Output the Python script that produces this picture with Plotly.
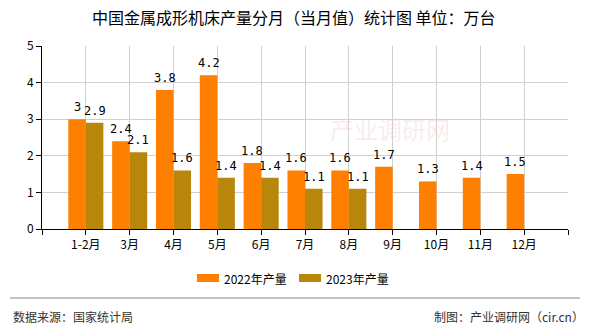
import plotly.graph_objects as go

# Monthly output of metal forming machine tools (10k units)
months = ["1-2月", "3月", "4月", "5月", "6月", "7月", "8月", "9月", "10月", "11月", "12月"]
series_names = ["2022年产量", "2023年产量"]
output_2022 = [3, 2.4, 3.8, 4.2, 1.8, 1.6, 1.6, 1.7, 1.3, 1.4, 1.5]
output_2023 = [2.9, 2.1, 1.6, 1.4, 1.4, 1.1, 1.1, None, None, None, None]
y_ticks = [0, 1, 2, 3, 4, 5]
colors = ["#FF8000", "#B8860B"]

title_text = "中国金属成形机床产量分月（当月值）统计图 单位：万台"
source_text = "数据来源：国家统计局"
credit_text = "制图：产业调研网（cir.cn）"
watermark_text = "产业调研网"

W, H = 590, 330
L, R, T, B = 42, 22, 46, 101
PW, PH = W - L - R, H - T - B

def px_x(px):
    return (px - L) / PW

def px_y(py):
    return (H - B - py) / PH

xpos = list(range(len(months)))
bargap = 0.2
half = (1 - bargap) / 4  # offset of each bar centre within its group

fig = go.Figure()
for name, vals, col in zip(series_names, [output_2022, output_2023], colors):
    fig.add_trace(go.Bar(
        x=xpos, y=vals, name=name, marker_color=col, marker_line_width=0,
        showlegend=False,
    ))

label_font = dict(family="Noto Sans CJK SC", size=12, color="#000")

fig.update_layout(
    width=W, height=H,
    margin=dict(l=L, r=R, t=T, b=B),
    paper_bgcolor="white", plot_bgcolor="white",
    barmode="group", bargap=bargap, bargroupgap=0,
    font=label_font,
    xaxis=dict(
        range=[-1, len(months)],
        tickvals=list(range(-1, len(months) + 1)),
        ticktext=[""] + months + [""],
        showgrid=True, gridcolor="#D0D0D0", gridwidth=1,
        showline=True, linecolor="#000", linewidth=1,
        ticks="outside", ticklen=5, tickcolor="#000",
        tickfont=label_font, zeroline=False,
    ),
    yaxis=dict(
        range=[0, 5], tickvals=y_ticks,
        showgrid=True, gridcolor="#D0D0D0", gridwidth=1,
        showline=True, linecolor="#000", linewidth=1,
        ticks="outside", ticklen=5, tickcolor="#000",
        tickfont=label_font, zeroline=False,
    ),
)

annotations = [
    dict(text=title_text, x=px_x(294), y=px_y(17.5), xref="paper", yref="paper",
         showarrow=False, xanchor="center", yanchor="middle",
         font=dict(family="Noto Sans CJK SC", size=16, color="#000")),
    dict(text=watermark_text, x=px_x(390), y=px_y(128), xref="paper", yref="paper",
         showarrow=False, xanchor="center", yanchor="middle",
         font=dict(family="Noto Sans CJK SC", size=24, color="rgba(240,200,200,0.35)")),
    dict(text=source_text, x=px_x(11), y=px_y(316), xref="paper", yref="paper",
         showarrow=False, xanchor="left", yanchor="middle",
         font=dict(family="Noto Sans CJK SC", size=12, color="#333")),
    dict(text=credit_text, x=px_x(586), y=px_y(316), xref="paper", yref="paper",
         showarrow=False, xanchor="right", yanchor="middle",
         font=dict(family="Noto Sans CJK SC", size=12, color="#333")),
]

# Value labels above each bar
for k, vals in enumerate([output_2022, output_2023]):
    offset = -half if k == 0 else half
    for i, v in enumerate(vals):
        if v is None:
            continue
        annotations.append(dict(
            text=f"{v:g}", x=i + offset, y=v, xref="x", yref="y",
            showarrow=False, xanchor="center", yanchor="middle", yshift=12,
            font=dict(family="DejaVu Sans Mono", size=12, color="#000"),
        ))

shapes = [
    dict(type="line", xref="paper", yref="paper",
         x0=px_x(10), x1=px_x(580), y0=px_y(298), y1=px_y(298),
         line=dict(color="#888", width=1)),
]

# Legend swatches and labels
legend_x = [197, 299]
for lx, name, col in zip(legend_x, series_names, colors):
    shapes.append(dict(type="rect", xref="paper", yref="paper",
                       x0=px_x(lx), x1=px_x(lx + 22), y0=px_y(282), y1=px_y(274),
                       fillcolor=col, line=dict(width=0)))
    annotations.append(dict(text=name, x=px_x(lx + 25), y=px_y(278), xref="paper", yref="paper",
                            showarrow=False, xanchor="left", yanchor="middle",
                            font=dict(family="Noto Sans CJK SC", size=12, color="#000")))

fig.update_layout(annotations=annotations, shapes=shapes)

fig.write_html("out.html")
